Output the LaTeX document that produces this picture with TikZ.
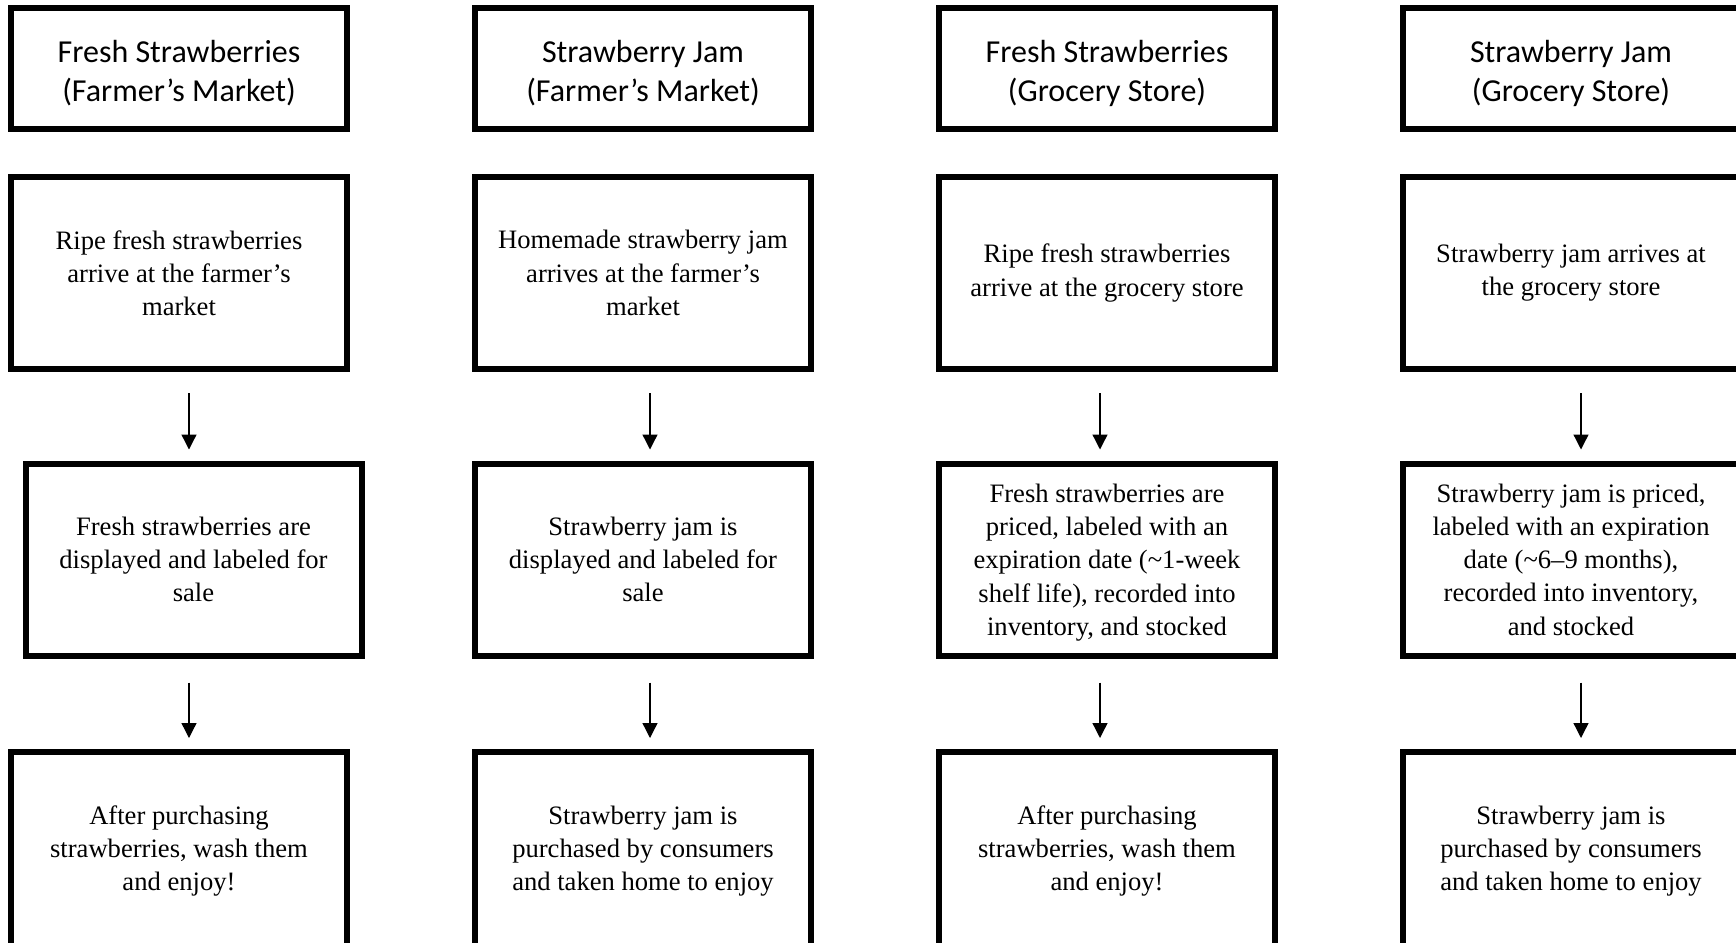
\documentclass[tikz,border=0pt]{standalone}
\usepackage{fontspec}
\setmainfont{Liberation Serif}
\newfontfamily\hdrfont{Carlito}
\usetikzlibrary{arrows.meta}
\newcommand{\hdrstrut}{\rule{0pt}{16.2pt}}
\newcommand{\bodystrut}{\rule{0pt}{12.2pt}}
\begin{document}
\begin{tikzpicture}[x=0.5pt,y=-0.5pt,
  hdrbox/.style={draw, line width=3pt, minimum width=168pt, minimum height=60.5pt,
    inner sep=0pt, align=center, font=\hdrfont\fontsize{16pt}{19.5pt}\selectfont},
  stepbox/.style={draw, line width=3pt, minimum width=168pt, minimum height=96pt,
    inner sep=0pt, align=center, font=\fontsize{13.3pt}{16.6pt}\selectfont},
  lastbox/.style={stepbox, minimum height=99pt},
  flow/.style={line width=0.65pt, -{Triangle[width=7.5pt,length=7.5pt]}},
  upgap/.style={shorten <=10.5pt, shorten >=5.5pt},
  lowgap/.style={shorten <=12pt, shorten >=5.5pt}]
\useasboundingbox (0,0) rectangle (1736,943);
\clip (0,0) rectangle (1736,943);
\fill[white] (0,0) rectangle (1736,943);

% headers
\node[hdrbox] (h1) at (179,68.5)  {\hdrstrut Fresh Strawberries\\(Farmer’s Market)};
\node[hdrbox] (h2) at (643,68.5)  {\hdrstrut Strawberry Jam\\(Farmer’s Market)};
\node[hdrbox] (h3) at (1107,68.5) {\hdrstrut Fresh Strawberries\\(Grocery Store)};
\node[hdrbox] (h4) at (1571,68.5) {\hdrstrut Strawberry Jam\\(Grocery Store)};

% row 2
\node[stepbox] (b21) at (179,273)  {Ripe fresh strawberries\\arrive at the farmer’s\\market};
\node[stepbox] (b22) at (643,273)  {Homemade strawberry jam\\arrives at the farmer’s\\market};
\node[stepbox] (b23) at (1107,273) {Ripe fresh strawberries\\arrive at the grocery store};
\node[stepbox] (b24) at (1571,273) {Strawberry jam arrives at\\the grocery store};

% row 3
\node[stepbox] (b31) at (193.5,559.5) {Fresh strawberries are\\displayed and labeled for\\sale};
\node[stepbox] (b32) at (643,559.5)   {Strawberry jam is\\displayed and labeled for\\sale};
\node[stepbox] (b33) at (1107,559.5)  {\bodystrut Fresh strawberries are\\priced, labeled with an\\expiration date (\textasciitilde1-week\\shelf life), recorded into\\inventory, and stocked};
\node[stepbox] (b34) at (1571,559.5)  {Strawberry jam is priced,\\labeled with an expiration\\date (\textasciitilde6–9 months),\\recorded into inventory,\\and stocked};

% row 4
\node[lastbox] (b41) at (179,851)  {After purchasing\\strawberries, wash them\\and enjoy!};
\node[lastbox] (b42) at (643,851)  {Strawberry jam is\\purchased by consumers\\and taken home to enjoy};
\node[lastbox] (b43) at (1107,851) {After purchasing\\strawberries, wash them\\and enjoy!};
\node[lastbox] (b44) at (1571,851) {Strawberry jam is\\purchased by consumers\\and taken home to enjoy};

% arrow columns
\coordinate (ax1) at (189,0);
\coordinate (ax2) at (650,0);
\coordinate (ax3) at (1100,0);
\coordinate (ax4) at (1581,0);

\foreach \c in {1,2,3,4}{
  \draw[flow,upgap]  (b2\c.south -| ax\c) -- (b3\c.north -| ax\c);
  \draw[flow,lowgap] (b3\c.south -| ax\c) -- (b4\c.north -| ax\c);
}
\end{tikzpicture}
\end{document}
